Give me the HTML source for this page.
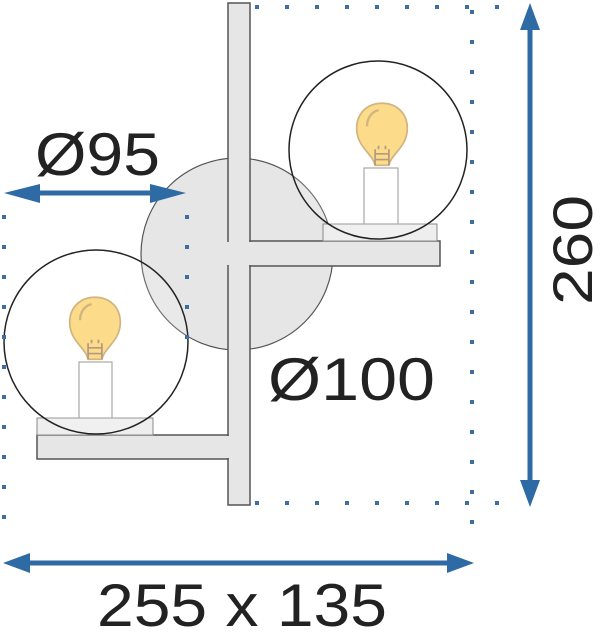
<!DOCTYPE html>
<html><head><style>body{margin:0;background:#fff}svg{display:block}</style></head><body>
<svg width="600" height="632" viewBox="0 0 600 632" xmlns="http://www.w3.org/2000/svg" font-family="Liberation Sans, sans-serif">
<defs>
<g id="bulb">
<path d="M-6,22 C-8,12 -22,6 -22,-10 C-22,-24 -12,-32 0,-32 C12,-32 22,-24 22,-10 C22,6 8,12 6,22 Z" fill="#fcd576" stroke="#c9a86a" stroke-width="1.5"/>
<path d="M-13,-12 C-13,-20 -8,-25 -3,-26" fill="none" stroke="#c9a86a" stroke-width="2"/>
<path d="M-6,22 V8 M6,22 V8 M-6,12 H6 M-6,17 H6 M-3,8 V5 M3,8 V5" stroke="#a6896a" stroke-width="1.5" fill="none"/>
</g>
</defs>
<circle cx="237" cy="254" r="96" fill="#e6e6e6" stroke="#555" stroke-width="1.2"/>
<rect x="228" y="3" width="22" height="502" fill="#e6e6e6" stroke="#555" stroke-width="1.5"/>
<rect x="250" y="241" width="190" height="25" fill="#e6e6e6" stroke="#555" stroke-width="1.5"/>
<rect x="37" y="435" width="191" height="24" fill="#e6e6e6" stroke="#555" stroke-width="1.5"/>
<rect x="227" y="242" width="24" height="23" fill="#e6e6e6"/>
<rect x="227" y="436" width="2" height="22" fill="#e6e6e6"/>
<rect x="323" y="224" width="114" height="17" fill="#eeeeee" stroke="#888" stroke-width="1"/>
<rect x="364" y="168" width="34" height="56" fill="#fff" stroke="#999" stroke-width="1.2"/>
<use href="#bulb" transform="translate(382,140) scale(1.15)"/>
<circle cx="378" cy="150" r="89" fill="rgba(255,255,255,0.15)" stroke="#222" stroke-width="1.5"/>
<rect x="37" y="418" width="116" height="17" fill="#eeeeee" stroke="#888" stroke-width="1"/>
<rect x="79" y="362" width="33" height="56" fill="#fff" stroke="#999" stroke-width="1.2"/>
<use href="#bulb" transform="translate(95,334) scale(1.15)"/>
<circle cx="96" cy="342" r="92" fill="rgba(255,255,255,0.15)" stroke="#222" stroke-width="1.5"/>
<g stroke="#3d6e9c" stroke-width="4" stroke-dasharray="4 26" fill="none">
<line x1="255" y1="7" x2="525" y2="7"/>
<line x1="255" y1="503" x2="525" y2="503"/>
<line x1="472" y1="10" x2="472" y2="545"/>
<line x1="4" y1="215" x2="4" y2="545"/>
<line x1="187" y1="215" x2="187" y2="345"/>
</g>
<g fill="#2e6aa3" stroke="#2e6aa3">
<line x1="530" y1="25" x2="530" y2="485" stroke-width="5"/>
<path d="M530,3 L520,30 L540,30 Z" stroke="none"/>
<path d="M530,507 L520,480 L540,480 Z" stroke="none"/>
<line x1="25" y1="563" x2="452" y2="563" stroke-width="5"/>
<path d="M3,563 L30,553 L30,573 Z" stroke="none"/>
<path d="M474,563 L447,553 L447,573 Z" stroke="none"/>
<line x1="25" y1="193" x2="165" y2="193" stroke-width="5"/>
<path d="M4,193 L40,184 L40,203 Z" stroke="none"/>
<path d="M186,193 L150,184 L150,203 Z" stroke="none"/>
</g>
<g fill="#222" font-size="60">
<text x="35" y="175" textLength="125" lengthAdjust="spacingAndGlyphs">Ø95</text>
<text x="268" y="400" textLength="167" lengthAdjust="spacingAndGlyphs">Ø100</text>
<text x="97" y="626" textLength="290" lengthAdjust="spacingAndGlyphs">255 x 135</text>
<text transform="translate(592,250) rotate(-90)" text-anchor="middle" font-size="56" textLength="110" lengthAdjust="spacingAndGlyphs">260</text>
</g>
</svg>
</body></html>
